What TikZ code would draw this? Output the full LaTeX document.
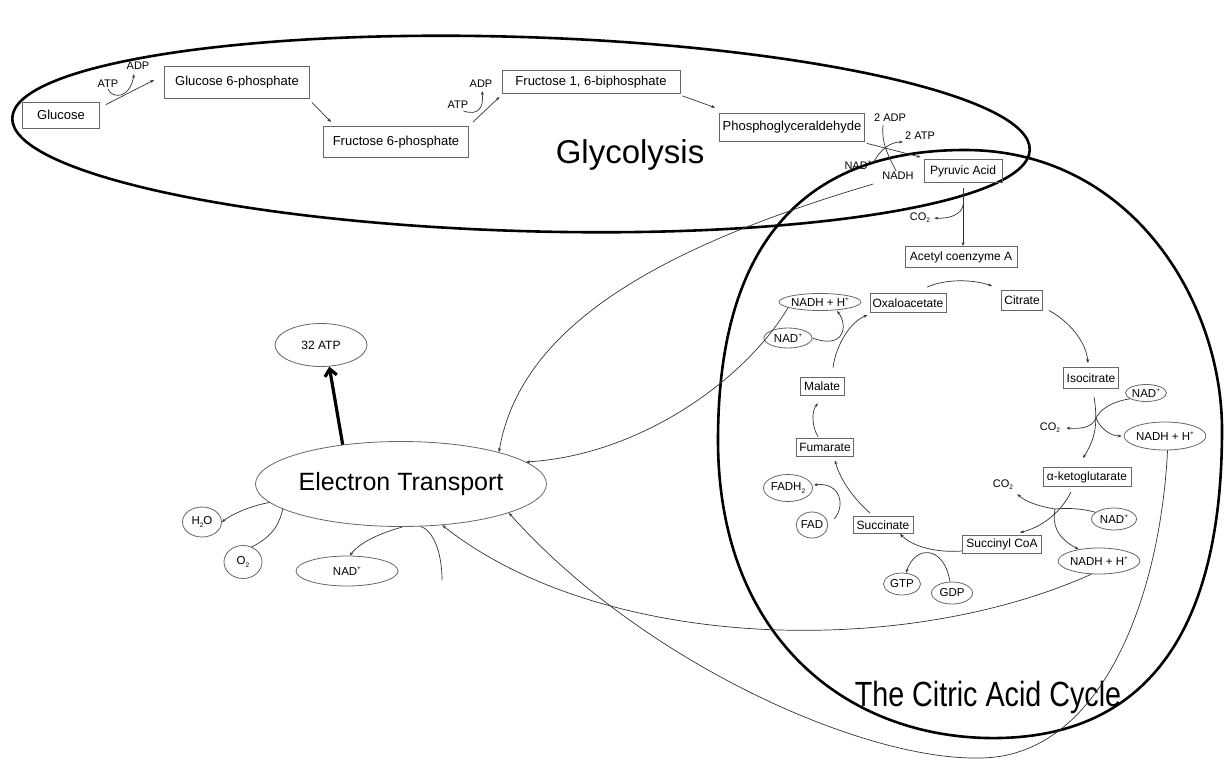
\documentclass[tikz,border=0pt]{standalone}
\usepackage{fontspec}
\setmainfont{Liberation Sans}
\usetikzlibrary{shapes.geometric,arrows.meta,calc}
\newcommand{\subtwo}{\raisebox{-0.35ex}{\fontsize{6.5}{7}\selectfont 2}}
\newcommand{\ionplus}{\raisebox{0.75ex}{\fontsize{6.5}{7}\selectfont +}}
\begin{document}
\begin{tikzpicture}[x=1pt,y=-1pt,>={Stealth[length=4pt,width=3pt]}]
	\tikzstyle{gbox}=[rectangle,draw=black!60,line width=0.8pt,inner sep=1pt,font=\fontsize{13}{15}\selectfont]
	\tikzstyle{cbox}=[rectangle,draw=black!60,line width=0.8pt,inner sep=1pt,font=\fontsize{12}{14}\selectfont]
	\tikzstyle{mol}=[ellipse,draw=black!60,line width=0.8pt,inner sep=0pt,font=\fontsize{11.5}{13}\selectfont]
	\tikzstyle{lbl}=[inner sep=1pt,font=\fontsize{11}{12}\selectfont]
	\tikzstyle{link}=[draw=black!80,line width=0.7pt]
	\tikzstyle{rxn}=[link,->]
	\tikzstyle{region}=[draw=black,line width=2.6pt]
	\useasboundingbox (0,0) rectangle (1225,760);

	% the two big regions
	\draw[region,rotate around={-1.8:(521,134)}] (521,134) ellipse [x radius=509,y radius=97];
	\draw[region] (965,150) .. controls (1130,150) and (1222,300) .. (1222,430)
		.. controls (1222,640) and (1140,735) .. (1000,738)
		.. controls (850,741) and (718,640) .. (718,440)
		.. controls (718,260) and (790,150) .. (965,150) -- cycle;
	\node[font=\fontsize{35}{38}\selectfont,xscale=0.82] (tcalabel) at (988,697) {The Citric Acid Cycle};
	\node[font=\fontsize{33}{36}\selectfont] (glylabel) at (630,155) {Glycolysis};

	% glycolysis
	\node[gbox,minimum width=77,minimum height=26] (glucose) at (61,115) {Glucose};
	\node[gbox,minimum width=145,minimum height=32] (gsix) at (237,82) {Glucose 6-phosphate};
	\node[gbox,minimum width=145,minimum height=31] (fsix) at (396,142) {Fructose 6-phosphate};
	\node[gbox,minimum width=178,minimum height=23] (fbis) at (591,82) {Fructose 1, 6-biphosphate};
	\node[gbox,minimum width=145,minimum height=28] (pgal) at (792,127) {Phosphoglyceraldehyde};
	\node[cbox,minimum width=78,minimum height=23] (pyr) at (963,171) {Pyruvic Acid};
	\node[cbox,minimum width=112,minimum height=21] (acoa) at (961,257) {Acetyl coenzyme A};

	\node[lbl] (atpA) at (108,84) {ATP};
	\node[lbl] (adpA) at (138,66) {ADP};
	\node[lbl] (atpB) at (458,105) {ATP};
	\node[lbl] (adpB) at (481,84) {ADP};
	\node[lbl] (adp2) at (890,118) {2 ADP};
	\node[lbl] (atp2) at (920,136) {2 ATP};
	\node[lbl] (nadG) at (858,165) {NAD\ionplus};
	\node[lbl] (nadhG) at (898,176) {NADH};
	\node[lbl] (co2A) at (920,218) {CO\subtwo};

	\draw[rxn] ($(glucose.north east)+(6,3)$) -- ($(gsix.west)+(-10,-2)$);
	\draw[rxn] ($(gsix.south east)+(2,4)$) -- ($(fsix.north west)+(8,-4)$);
	\draw[rxn] ($(fsix.north east)+(4,-4)$) -- ($(fbis.south west)+(-2,3)$);
	\draw[rxn] ($(fbis.south east)+(2,2)$) -- ($(pgal.north west)+(-4,-5)$);
	\draw[rxn] ($(pgal.south east)+(2,2)$) -- ($(pyr.north west)+(-3,-2)$);
	\draw[rxn] ($(pyr.south)+(0,5)$) -- (pyr.south |- acoa.north);
	\coordinate (jpyr) at (963,205);
	\draw[rxn] (jpyr) .. controls (962,214) and (950,219) .. ($(co2A.east)+(3,0)$);

	\draw[rxn] (atpA.south) .. controls (112,99) and (130,99) .. ($(adpA.south)+(-4,3)$);
	\draw[rxn] ($(atpB.south east)+(-6,1)$) .. controls (478,116) and (484,108) .. ($(adpB.south)+(1,2)$);
	\draw[link] ($(adp2.south)+(-7,2)$) .. controls (881,145) and (890,158) .. ($(nadhG.north)+(-2,0)$);
	\draw[rxn] ($(nadG.east)+(1,-3)$) .. controls (880,150) and (890,142) .. ($(atp2.west)+(-1,6)$);

	% citric acid cycle
	\node[cbox,minimum width=76,minimum height=19] (oxa) at (908,303) {Oxaloacetate};
	\node[cbox,minimum width=41,minimum height=20] (cit) at (1022,300) {Citrate};
	\node[cbox,minimum width=55,minimum height=21] (iso) at (1091,378) {Isocitrate};
	\node[cbox,minimum width=88,minimum height=19] (akg) at (1087,477) {α-ketoglutarate};
	\node[cbox,minimum width=79,minimum height=18] (scoa) at (1002,544) {Succinyl CoA};
	\node[cbox,minimum width=60,minimum height=17] (succ) at (883,525) {Succinate};
	\node[cbox,minimum width=57,minimum height=18] (fum) at (825,447) {Fumarate};
	\node[cbox,minimum width=44,minimum height=18] (mal) at (822,386) {Malate};

	\node[mol,minimum width=78,minimum height=17] (nadhA) at (820,302) {NADH + H\ionplus};
	\node[mol,minimum width=48,minimum height=20] (nadA) at (788,338) {NAD\ionplus};
	\node[mol,minimum width=41,minimum height=17] (nadB) at (1146,393) {NAD\ionplus};
	\node[mol,minimum width=75,minimum height=28] (nadhB) at (1165,436) {NADH + H\ionplus};
	\node[mol,minimum width=45,minimum height=22] (nadC) at (1114,519) {NAD\ionplus};
	\node[mol,minimum width=78,minimum height=26] (nadhC) at (1099,561) {NADH + H\ionplus};
	\node[mol,minimum width=49,minimum height=27] (fadh) at (788,488) {FADH\subtwo};
	\node[mol,minimum width=31,minimum height=26] (fad) at (812,525) {FAD};
	\node[mol,minimum width=37,minimum height=22] (gtp) at (902,584) {GTP};
	\node[mol,minimum width=41,minimum height=22] (gdp) at (952,593) {GDP};
	\node[lbl] (co2B) at (1050,428) {CO\subtwo};
	\node[lbl] (co2C) at (1003,485) {CO\subtwo};

	\draw[rxn] ($(oxa.north)+(19,-6)$) .. controls (945,279) and (972,279) .. ($(cit.west)+(-9,-14)$);
	\draw[rxn] ($(cit.south east)+(6,0)$) .. controls (1070,322) and (1086,342) .. ($(iso.north)+(-3,-4)$);
	\draw[rxn] ($(iso.south)+(3,8)$) .. controls (1099,428) and (1093,442) .. ($(akg.north)+(-4,-9)$);
	\coordinate (jiso) at (1096,418);
	\draw[link] (nadB.200) .. controls (1110,402) and (1100,410) .. (jiso);
	\draw[rxn] (jiso) .. controls (1092,428) and (1080,429) .. ($(co2B.east)+(5,0)$);
	\draw[rxn] (jiso) .. controls (1100,428) and (1110,436) .. ($(nadhB.west)+(-2,0)$);
	\draw[rxn] ($(akg.south)+(-16,5)$) .. controls (1062,510) and (1045,526) .. ($(scoa.north)+(18,-2)$);
	\coordinate (jakg) at (1055,509);
	\draw[link] (nadC.160) .. controls (1080,508) and (1066,508) .. (jakg);
	\draw[rxn] (jakg) .. controls (1038,506) and (1026,502) .. ($(co2C.south east)+(3,3)$);
	\draw[rxn] (jakg) .. controls (1052,525) and (1057,538) .. (nadhC.150);
	\draw[rxn] ($(scoa.west)+(0,7)$) .. controls (935,553) and (912,546) .. ($(succ.south)+(17,0)$);
	\draw[rxn] (gdp.100) .. controls (944,545) and (915,545) .. (gtp.70);
	\draw[rxn] ($(succ.north)+(-13,-3)$) .. controls (855,500) and (840,480) .. ($(fum.south)+(10,4)$);
	\draw[rxn] ($(fad.east)+(6,-6)$) .. controls (846,505) and (840,482) .. ($(fadh.east)+(1,-3)$);
	\draw[rxn] ($(fum.north)+(-7,-1)$) .. controls (811,425) and (812,410) .. ($(mal.south)+(-4,8)$);
	\draw[rxn] ($(mal.north)+(11,-9)$) .. controls (836,345) and (850,322) .. ($(oxa.west)+(-2,12)$);
	\draw[rxn] (nadA.east) .. controls (845,350) and (848,325) .. ($(nadhA.south)+(17,0)$);

	% electron transport
	\node[mol,minimum width=291,minimum height=85] (et) at (401,484) {};
	\node[font=\fontsize{25}{28}\selectfont] (etlabel) at (et) {Electron Transport};
	\node[mol,minimum width=92,minimum height=43,font=\fontsize{12}{14}\selectfont] (atp32) at (321,345) {32 ATP};
	\node[mol,minimum width=39,minimum height=30] (h2o) at (202,522) {H\subtwo O};
	\node[mol,minimum width=38,minimum height=33] (otwo) at (243,562) {O\subtwo};
	\node[mol,minimum width=102,minimum height=30] (nadET) at (347,571) {NAD\ionplus};
	\coordinate (etfree) at (442,580);
	\coordinate (loopB) at (979,758);

	\draw[line width=3.2pt,-{Straight Barb[length=7pt,width=12pt]}] (et.146) -- (atp32.-69);
	\draw[rxn] (et.-172) .. controls (255,505) and (235,512) .. (h2o.east);
	\draw[link] (otwo.60) .. controls (276,535) and (280,520) .. (et.-168);
	\draw[rxn] (et.-88) .. controls (385,532) and (362,540) .. (nadET.80);
	\draw[link] (et.-65) .. controls (432,530) and (442,550) .. (etfree);

	\draw[rxn] ($(nadhG.south west)+(-8,3)$) .. controls (650,250) and (520,330) .. (et.18);
	\draw[rxn] (nadhA.-170) .. controls (745,380) and (640,455) .. (et.10);
	\draw[rxn] (nadhC.-120) .. controls (900,660) and (600,650) .. (et.-45);
	\draw[rxn] (nadhB.-80) .. controls (1160,600) and (1100,758) .. (loopB) .. controls (860,760) and (640,660) .. (et.-15);
\end{tikzpicture}
\end{document}
